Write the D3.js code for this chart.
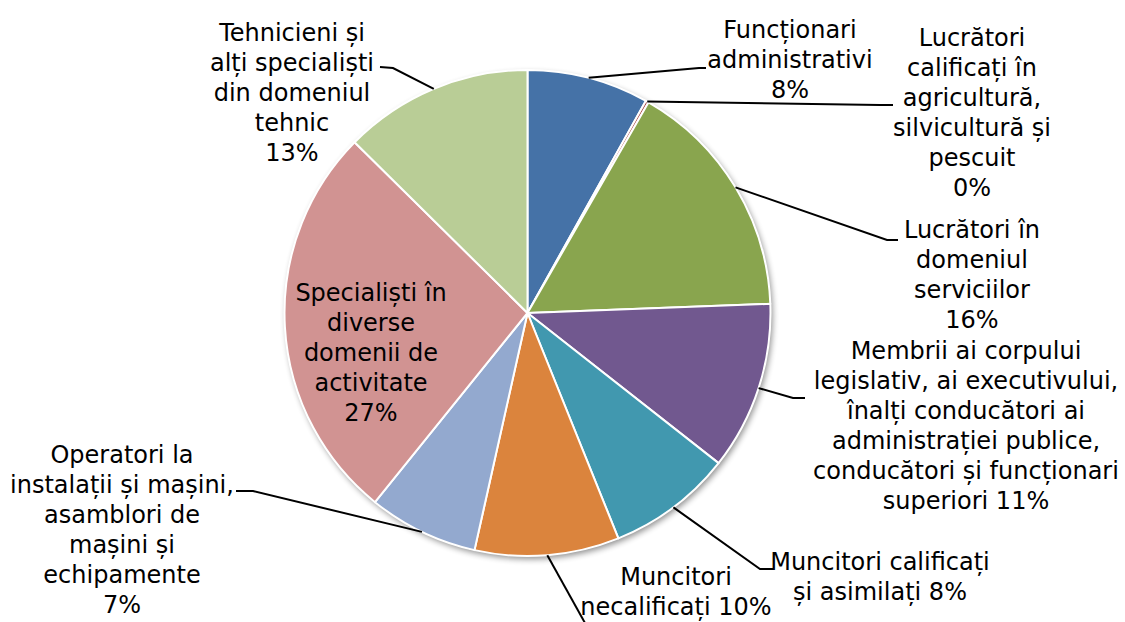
<!DOCTYPE html>
<html><head><meta charset="utf-8">
<script src="https://cdn.jsdelivr.net/npm/d3@7/dist/d3.min.js"></script>
<style>html,body{margin:0;padding:0;background:#fff;}svg{display:block;}</style>
</head><body><svg id="c" width="1125" height="622"></svg>
<script>
const categories = [
  "Funcționari administrativi",
  "Lucrători calificați în agricultură, silvicultură și pescuit",
  "Lucrători în domeniul serviciilor",
  "Membrii ai corpului legislativ, ai executivului, înalți conducători ai administrației publice, conducători și funcționari superiori",
  "Muncitori calificați și asimilați",
  "Muncitori necalificați",
  "Operatori la instalații și mașini, asamblori de mașini și echipamente",
  "Specialiști în diverse domenii de activitate",
  "Tehnicieni și alți specialiști din domeniul tehnic"
];
const values = [8.1, 0.2, 16.1, 11.2, 8.3, 9.6, 7.3, 26.6, 12.6];
const percentLabels = ["8%", "0%", "16%", "11%", "8%", "10%", "7%", "27%", "13%"];
const labelLines = [
  ["Funcționari", "administrativi", "8%"],
  ["Lucrători", "calificați în", "agricultură,", "silvicultură și", "pescuit", "0%"],
  ["Lucrători în", "domeniul", "serviciilor", "16%"],
  ["Membrii ai corpului", "legislativ, ai executivului,", "înalți conducători ai", "administrației publice,", "conducători și funcționari", "superiori 11%"],
  ["Muncitori calificați", "și asimilați 8%"],
  ["Muncitori", "necalificați 10%"],
  ["Operatori la", "instalații și mașini,", "asamblori de", "mașini și", "echipamente", "7%"],
  ["Specialiști în", "diverse", "domenii de", "activitate", "27%"],
  ["Tehnicieni și", "alți specialiști", "din domeniul", "tehnic", "13%"]
];
const colors = ["#4572A7", "#AA4643", "#89A54E", "#71588F", "#4198AF", "#DB843D", "#93A9CF", "#D19392", "#B9CD96"];

// layout (label placement)
const layout = {
  cx: 527.5, cy: 313, r: 243, lineH: 30, font: 24,
  labels: [
    {x: 790, y: 30, path: [[699, 68], [706, 68]]},
    {x: 972, y: 38, path: [[880, 105], [893, 105]]},
    {x: 972, y: 230, path: [[887, 240], [898, 240]]},
    {x: 966, y: 351, path: [[793, 398], [805, 398]]},
    {x: 880, y: 562, path: [[760, 569], [773, 569]]},
    {x: 676, y: 577, path: [[590, 632]]},
    {x: 122, y: 455, path: [[253, 491], [236, 491]]},
    {x: 371, y: 293, path: null},
    {x: 292, y: 33, path: [[393, 68], [380, 67]]}
  ]
};

const svg = d3.select("#c");
const defs = svg.append("defs");
const f = defs.append("filter").attr("id", "sh").attr("x", "-10%").attr("y", "-10%").attr("width", "120%").attr("height", "120%");
f.append("feGaussianBlur").attr("in", "SourceAlpha").attr("stdDeviation", 3).attr("result", "b");
f.append("feOffset").attr("in", "b").attr("dx", 2).attr("dy", 3).attr("result", "o");
f.append("feComponentTransfer").attr("in", "o").attr("result", "o2").append("feFuncA").attr("type", "linear").attr("slope", 0.45);
const m = f.append("feMerge");
m.append("feMergeNode").attr("in", "o2");
m.append("feMergeNode").attr("in", "SourceGraphic");

const data = categories.map((c, i) => ({cat: c, value: values[i], i}));
const pie = d3.pie().sort(null).value(d => d.value);
const arcs = pie(data);
const arc = d3.arc().innerRadius(0).outerRadius(layout.r);

const g = svg.append("g").attr("transform", `translate(${layout.cx},${layout.cy})`);
g.append("circle").attr("r", layout.r).attr("fill", "#fff").attr("filter", "url(#sh)");
g.selectAll("path.slice").data(arcs).enter().append("path")
  .attr("class", "slice")
  .attr("d", arc)
  .attr("fill", d => colors[d.data.i])
  .attr("stroke", "#fff").attr("stroke-width", 2).attr("stroke-linejoin", "round");

// leader lines
const lineG = svg.append("g");
arcs.forEach(a => {
  const L = layout.labels[a.data.i];
  if (!L.path) return;
  const mid = (a.startAngle + a.endAngle) / 2;
  const sx = layout.cx + layout.r * Math.sin(mid);
  const sy = layout.cy - layout.r * Math.cos(mid);
  const pts = [[sx, sy]].concat(L.path);
  lineG.append("path").attr("d", d3.line()(pts)).attr("fill", "none").attr("stroke", "#000").attr("stroke-width", 2);
});

// labels
const txtG = svg.append("g").attr("font-family", "'DejaVu Sans', sans-serif").attr("font-size", layout.font).attr("fill", "#000");
labelLines.forEach((lines, i) => {
  const L = layout.labels[i];
  const t = txtG.append("text").attr("text-anchor", "middle");
  lines.forEach((ln, k) => {
    t.append("tspan").attr("x", L.x).attr("y", L.y + 8 + k * layout.lineH).text(ln);
  });
});
</script>
</body></html>
